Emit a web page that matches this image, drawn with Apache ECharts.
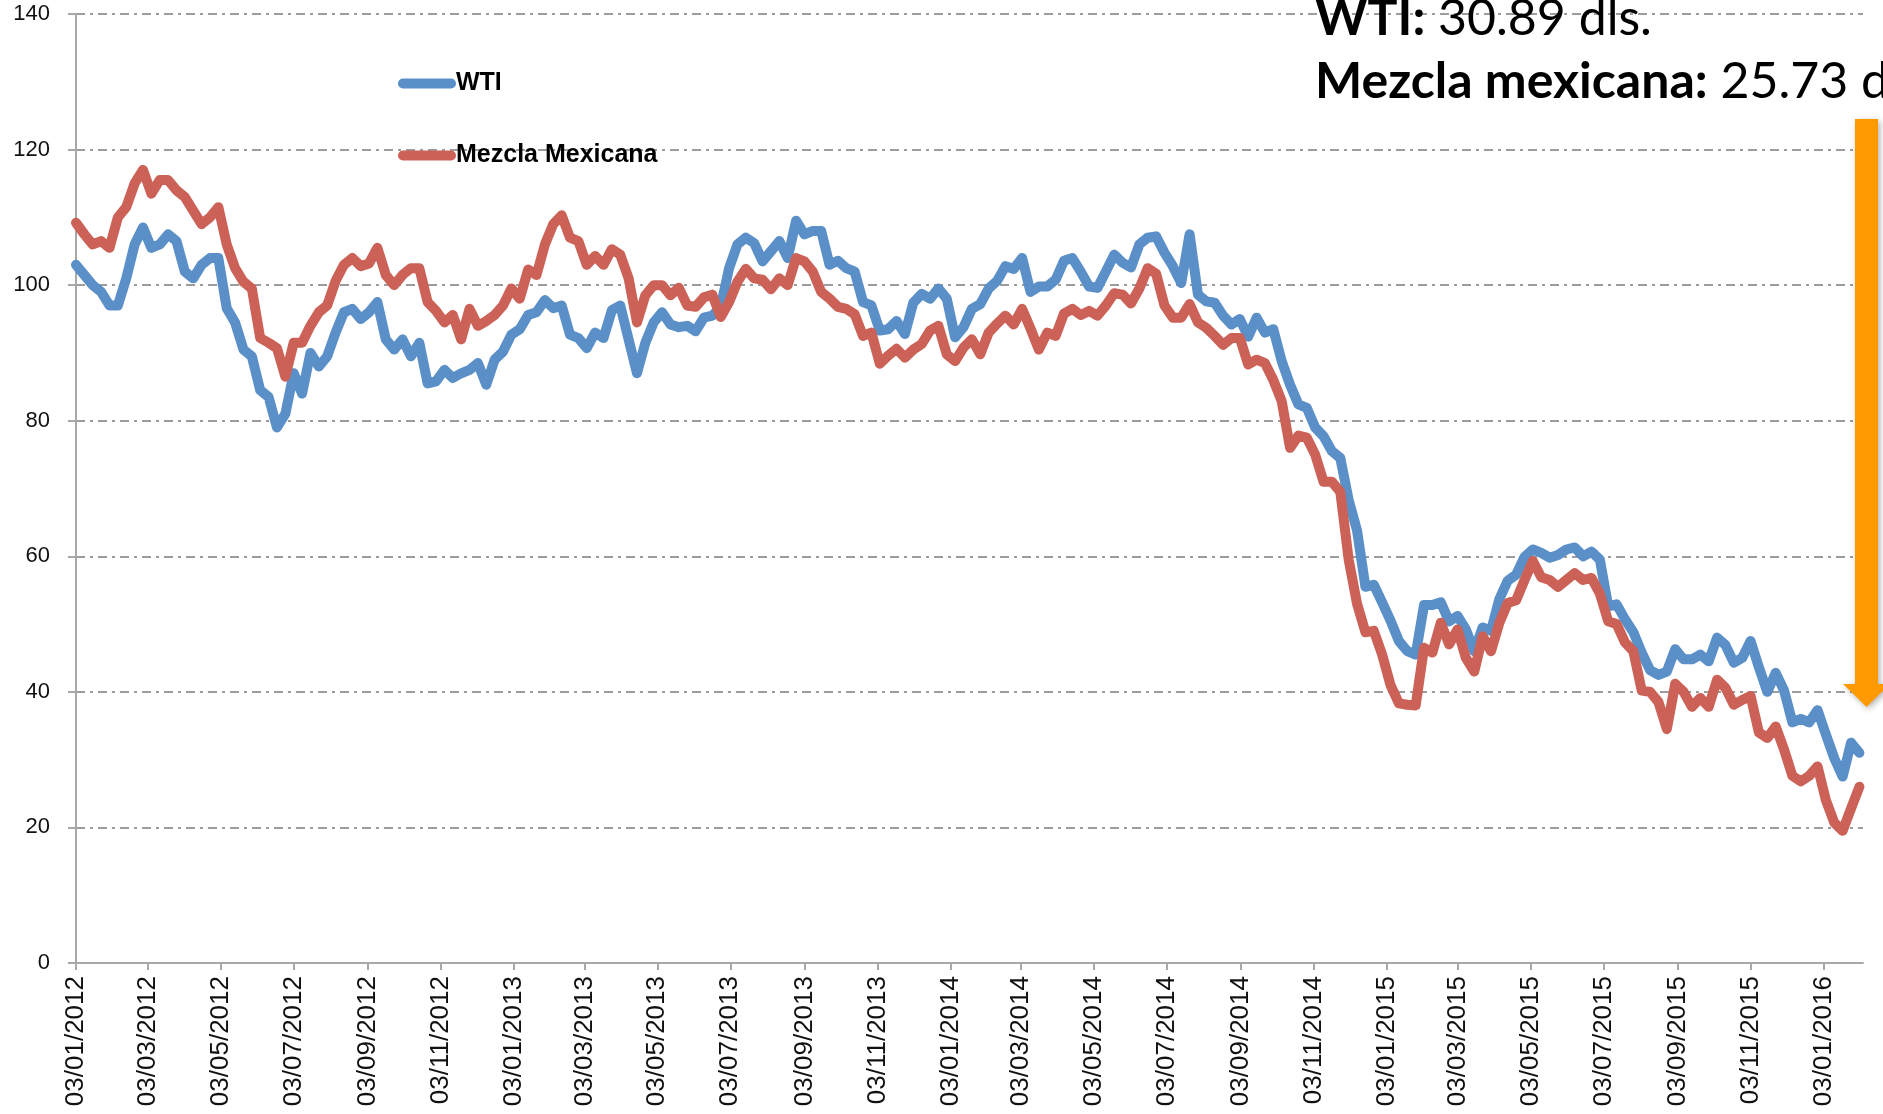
<!DOCTYPE html>
<html>
<head>
<meta charset="utf-8">
<title>WTI vs Mezcla Mexicana</title>
<script src="https://cdn.jsdelivr.net/npm/echarts@6/dist/echarts.min.js"></script>
<style>
    html, body {
        margin: 0;
        padding: 0;
        background: #fff;
    }
    #chart {
        width: 1883px;
        height: 1114px;
    }
</style>
</head>
<body>
<div id="chart"></div>
<script>
    // precios semanales en dls. por barril, a partir del 03/01/2012
    var startDate = Date.UTC(2012, 0, 3);
    var stepDays = 7;
    var lastDay = 1494;

    var wti = [
        103, 101.5, 100, 99, 97, 97, 101, 106, 108.5, 105.5,
        106, 107.5, 106.5, 102, 101, 103, 104, 104, 96.6, 94.5,
        90.5, 89.5, 84.5, 83.5, 79, 81, 87, 84, 90, 88,
        89.5, 93, 96, 96.5, 95, 96, 97.5, 92, 90.5, 92,
        89.5, 91.5, 85.5, 85.8, 87.5, 86.3, 87, 87.5, 88.5, 85.3,
        89, 90.2, 92.7, 93.5, 95.6, 96, 97.8, 96.6, 97, 92.7,
        92.2, 90.7, 93, 92.2, 96.3, 97, 92, 87, 91.5, 94.5,
        96, 94.2, 93.8, 94, 93.2, 95.2, 95.5, 96.8, 102.5, 106,
        107, 106.2, 103.5, 105, 106.5, 104, 109.5, 107.5, 108, 108,
        103, 103.6, 102.5, 102, 97.5, 97, 93.3, 93.5, 94.7, 92.8,
        97.4, 98.7, 98, 99.5, 98, 92.3, 93.8, 96.5, 97.2, 99.5,
        100.6, 102.8, 102.4, 104, 99, 99.8, 99.8, 100.8, 103.6, 104,
        102, 99.8, 99.6, 102, 104.5, 103.3, 102.6, 106, 107, 107.2,
        104.8, 102.8, 100.3, 107.5, 98.6, 97.6, 97.4, 95.5, 94.2, 95,
        92.4, 95.2, 93, 93.5, 88.8, 85.3, 82.4, 81.9, 79, 77.7,
        75.5, 74.5, 68.3, 63.8, 55.5, 55.8, 53.2, 50.5, 47.5, 46,
        45.5, 52.8, 52.8, 53.2, 50.4, 51.2, 49.2, 46, 49.5, 49,
        53.7, 56.4, 57.3, 59.9, 61, 60.5, 59.8, 60.2, 61, 61.3,
        60, 60.7, 59.5, 52.6, 52.9, 50.7, 48.8, 45.8, 43.2, 42.5,
        43, 46.3, 44.8, 44.8, 45.5, 44.5, 48, 46.9, 44.3, 45,
        47.5, 43.6, 40, 42.8, 40.2, 35.5, 36, 35.5, 37.3, 33.7,
        30.2, 27.5, 32.5, 31
    ];

    var mezcla = [
        109.2, 107.5, 106, 106.5, 105.5, 110, 111.5, 115, 117, 113.5,
        115.5, 115.5, 114, 113, 111, 109, 110, 111.5, 106, 102.5,
        100.5, 99.5, 92.2, 91.5, 90.7, 86.5, 91.5, 91.5, 94, 96,
        97, 100.6, 103, 104, 102.8, 103.2, 105.5, 101.5, 100, 101.5,
        102.5, 102.5, 97.5, 96.2, 94.5, 95.6, 92, 96.5, 94, 94.7,
        95.6, 97, 99.5, 98, 102.3, 101.5, 106, 109, 110.3, 107,
        106.5, 103, 104.3, 103, 105.3, 104.5, 101, 94.5, 98.5, 100,
        100, 98.5, 99.6, 97, 96.8, 98.2, 98.6, 95.3, 97.5, 100.5,
        102.4, 101, 100.8, 99.4, 101, 100, 104, 103.5, 102, 99,
        98, 96.8, 96.5, 95.7, 92.5, 93, 88.4, 89.6, 90.6, 89.3,
        90.5, 91.3, 93.3, 94, 89.8, 88.8, 90.8, 92, 89.8, 93,
        94.3, 95.5, 94.2, 96.5, 93.6, 90.5, 93, 92.5, 95.8, 96.5,
        95.6, 96.2, 95.5, 97, 98.8, 98.6, 97.3, 99.5, 102.5, 101.7,
        97, 95.2, 95.2, 97.2, 94.5, 93.7, 92.5, 91.2, 92.2, 92.2,
        88.3, 89, 88.5, 86, 82.9, 76, 77.8, 77.5, 75, 71,
        71, 69.5, 59.5, 53, 48.8, 49, 45.5, 41, 38.3, 38.1,
        38, 46.5, 45.8, 50.2, 47, 49.2, 45, 43, 48.2, 46,
        50.2, 53.1, 53.5, 56.5, 59.3, 56.9, 56.5, 55.5, 56.5, 57.5,
        56.5, 56.8, 54.5, 50.4, 50, 47.3, 46, 40.2, 40, 38.5,
        34.5, 41.2, 40, 37.8, 39.1, 37.8, 41.8, 40.6, 38.1, 38.8,
        39.4, 34, 33.2, 34.9, 31.5, 27.6, 26.8, 27.6, 29, 24,
        20.7, 19.5, 22.8, 26
    ];

    var tickLabels = [
        '03/01/2012', '03/03/2012', '03/05/2012', '03/07/2012', '03/09/2012', '03/11/2012',
        '03/01/2013', '03/03/2013', '03/05/2013', '03/07/2013', '03/09/2013', '03/11/2013',
        '03/01/2014', '03/03/2014', '03/05/2014', '03/07/2014', '03/09/2014', '03/11/2014',
        '03/01/2015', '03/03/2015', '03/05/2015', '03/07/2015', '03/09/2015', '03/11/2015',
        '03/01/2016'
    ];

    var seriesNames = ['WTI', 'Mezcla Mexicana'];
    var seriesColors = ['#5b8fc8', '#cc6157'];

    // dia de cada etiqueta contado desde startDate
    var labelByDay = {};
    var tickDays = tickLabels.map(function (s) {
        var p = s.split('/');
        var d = Math.round((Date.UTC(+p[2], +p[1] - 1, +p[0]) - startDate) / 86400000);
        labelByDay[d] = s;
        return d;
    });

    function toPoints(values) {
        return values.map(function (v, i) {
            return [i * stepDays, v];
        });
    }

    var gridColor = '#9c9c9c';
    var axisColor = '#a8a8a8';
    var labelFont = 'Liberation Sans';

    var chart = echarts.init(document.getElementById('chart'));

    var option = {
        animation: false,
        backgroundColor: '#fff',
        grid: {
            left: 76,
            right: 20,
            top: 14,
            bottom: 151,
            containLabel: false
        },
        legend: {
            data: seriesNames,
            orient: 'vertical',
            left: 393,
            top: 66,
            itemGap: 47,
            itemWidth: 58,
            itemHeight: 10,
            icon: 'path://M5,0 H53 A5,5 0 0 1 53,10 H5 A5,5 0 0 1 5,0 Z',
            textStyle: {
                fontFamily: labelFont,
                fontWeight: 'bold',
                fontSize: 25,
                color: '#000',
                padding: [0, 0, 0, -5]
            }
        },
        xAxis: {
            type: 'value',
            min: 0,
            max: lastDay,
            axisLine: {show: true, lineStyle: {color: axisColor, width: 2}},
            axisTick: {show: true, customValues: tickDays, length: 7, lineStyle: {color: axisColor, width: 2}},
            axisLabel: {
                customValues: tickDays,
                rotate: 90,
                margin: 13,
                fontFamily: labelFont,
                fontSize: 26,
                color: '#111',
                formatter: function (v) {
                    return labelByDay[v] || '';
                }
            },
            splitLine: {show: false}
        },
        yAxis: {
            type: 'value',
            min: 0,
            max: 140,
            interval: 20,
            axisLine: {show: true, lineStyle: {color: axisColor, width: 2}},
            axisTick: {show: true, length: 8, lineStyle: {color: axisColor, width: 2}},
            axisLabel: {
                margin: 26,
                fontFamily: labelFont,
                fontSize: 22,
                color: '#111'
            },
            splitLine: {
                show: true,
                lineStyle: {color: gridColor, width: 2, type: [9, 5, 3, 5]}
            }
        },
        series: [
            {
                name: seriesNames[0],
                type: 'line',
                data: toPoints(wti),
                showSymbol: false,
                symbol: 'none',
                itemStyle: {color: seriesColors[0]},
                lineStyle: {color: seriesColors[0], width: 10, cap: 'round', join: 'round'}
            },
            {
                name: seriesNames[1],
                type: 'line',
                data: toPoints(mezcla),
                showSymbol: false,
                symbol: 'none',
                itemStyle: {color: seriesColors[1]},
                lineStyle: {color: seriesColors[1], width: 10, cap: 'round', join: 'round'}
            }
        ],
        graphic: [
            {
                type: 'text',
                x: 1315,
                y: 19,
                z: 100,
                style: {
                    text: '{b|WTI:} 30.89 dls.',
                    fill: '#000',
                    fontFamily: 'Lato',
                    fontSize: 50,
                    align: 'left',
                    verticalAlign: 'middle',
                    rich: {
                        b: {fontFamily: 'Lato', fontSize: 50, fontWeight: 'bold', fill: '#000'}
                    }
                }
            },
            {
                type: 'text',
                x: 1315,
                y: 82,
                z: 100,
                style: {
                    text: '{b|Mezcla mexicana:} 25.73 dls.',
                    fill: '#000',
                    fontFamily: 'Lato',
                    fontSize: 50,
                    align: 'left',
                    verticalAlign: 'middle',
                    rich: {
                        b: {fontFamily: 'Lato', fontSize: 50, fontWeight: 'bold', fill: '#000'}
                    }
                }
            },
            {
                // flecha naranja de la caida
                type: 'polygon',
                z: 90,
                shape: {
                    points: [[1855, 119], [1878, 119], [1878, 684], [1890, 684],
                             [1866.5, 707], [1843, 684], [1855, 684]]
                },
                style: {
                    fill: '#ff9900',
                    shadowBlur: 6,
                    shadowColor: 'rgba(0,0,0,0.3)',
                    shadowOffsetX: 2,
                    shadowOffsetY: 2
                }
            }
        ]
    };

    chart.setOption(option);
</script>
</body>
</html>
